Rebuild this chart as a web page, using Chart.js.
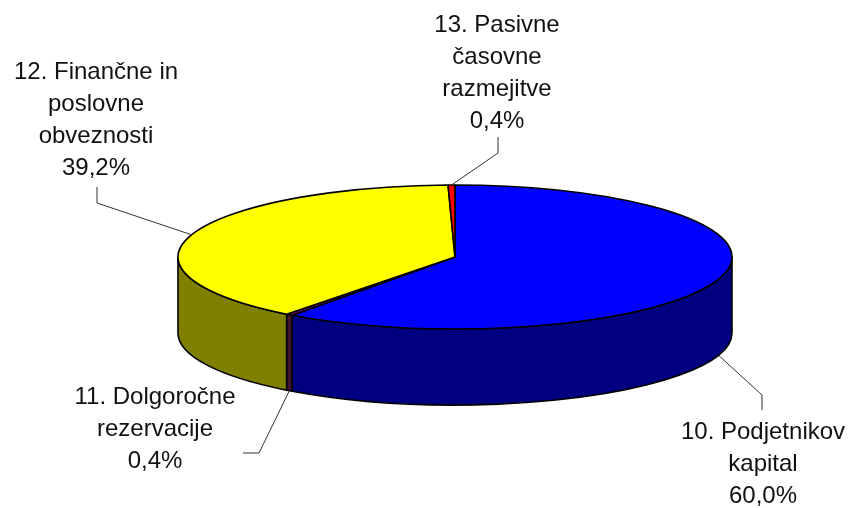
<!DOCTYPE html>
<html>
<head>
<meta charset="utf-8">
<script src="https://cdn.jsdelivr.net/npm/chart.js@4/dist/chart.umd.min.js"></script>
<style>
  html, body { margin: 0; padding: 0; background: #fff; }
  #wrap { width: 854px; height: 508px; }
</style>
</head>
<body>
<div id="wrap"><canvas id="pie3d" width="854" height="508"></canvas></div>
<script>
// data
const categories = ['10. Podjetnikov kapital', '11. Dolgoročne rezervacije', '12. Finančne in poslovne obveznosti', '13. Pasivne časovne razmejitve'];
const labelLines = [['10. Podjetnikov', 'kapital'], ['11. Dolgoročne', 'rezervacije'], ['12. Finančne in', 'poslovne', 'obveznosti'], ['13. Pasivne', 'časovne', 'razmejitve']];
const shares = [60.0, 0.4, 39.2, 0.4];

// looks
const topColors = ['#0000FF', '#800080', '#FFFF00', '#FF0000'];
const sideColors = ['#000080', '#401530', '#808000', '#800000'];
const TILT = 72 / 277;   // ry / rx
const DEPTH = 76;
// text centre (x, first line y) and leader elbow per slice
const labelPos = [
  { x: 763, y: 432, elbow: [762, 395], end: [762, 410] },
  { x: 155, y: 397, elbow: [259, 453], end: [243, 453] },
  { x: 96, y: 72, elbow: [97, 203], end: [97, 187] },
  { x: 497, y: 25, elbow: [498, 153], end: [498, 137] }
];
const fmtPct = v => v.toFixed(1).replace('.', ',') + '%';

const pie3dPlugin = {
  id: 'pie3d',
  beforeDatasetsDraw(chart) {
    const ctx = chart.ctx;
    const arcs = chart.getDatasetMeta(0).data;
    if (!arcs.length) return false;
    const cx = arcs[0].x, cy = arcs[0].y;
    const rx = arcs[0].outerRadius, ry = rx * TILT;
    ctx.save();
    ctx.lineWidth = 1.6;
    ctx.strokeStyle = '#000';
    ctx.lineJoin = 'round';
    // outer walls, front half only (canvas angles 0..PI)
    arcs.forEach((arc, i) => {
      const a = Math.max(arc.startAngle, 0);
      const b = Math.min(arc.endAngle, Math.PI);
      if (b <= a) return;
      ctx.beginPath();
      ctx.ellipse(cx, cy, rx, ry, 0, a, b, false);
      ctx.lineTo(cx + rx * Math.cos(b), cy + DEPTH + ry * Math.sin(b));
      ctx.ellipse(cx, cy + DEPTH, rx, ry, 0, b, a, true);
      ctx.closePath();
      ctx.fillStyle = sideColors[i];
      ctx.fill();
      ctx.stroke();
    });
    // top faces
    arcs.forEach((arc, i) => {
      ctx.beginPath();
      ctx.moveTo(cx, cy);
      ctx.ellipse(cx, cy, rx, ry, 0, arc.startAngle, arc.endAngle, false);
      ctx.closePath();
      ctx.fillStyle = topColors[i];
      ctx.fill();
      ctx.stroke();
    });
    ctx.restore();
    return false;
  },
  afterDraw(chart) {
    const ctx = chart.ctx;
    const arcs = chart.getDatasetMeta(0).data;
    const cx = arcs[0].x, cy = arcs[0].y;
    const rx = arcs[0].outerRadius, ry = rx * TILT;
    ctx.save();
    arcs.forEach((arc, i) => {
      const mid = (arc.startAngle + arc.endAngle) / 2;
      const s = Math.sin(mid);
      const ax = cx + rx * Math.cos(mid);
      const ay = cy + ry * s + (s > 0 ? DEPTH : 0);
      const p = labelPos[i];
      ctx.beginPath();
      ctx.moveTo(ax, ay);
      ctx.lineTo(p.elbow[0], p.elbow[1]);
      ctx.lineTo(p.end[0], p.end[1]);
      ctx.strokeStyle = '#333';
      ctx.lineWidth = 1;
      ctx.stroke();

      const lines = labelLines[i].concat([fmtPct(shares[i])]);
      ctx.fillStyle = '#111';
      ctx.font = '24px "Liberation Sans", Arial, sans-serif';
      ctx.textAlign = 'center';
      ctx.textBaseline = 'middle';
      lines.forEach((t, k) => ctx.fillText(t, p.x, p.y + k * 32));
    });
    ctx.restore();
  }
};

new Chart(document.getElementById('pie3d'), {
  type: 'pie',
  data: {
    labels: categories,
    datasets: [{ data: shares, backgroundColor: topColors, borderWidth: 0 }]
  },
  options: {
    responsive: false,
    animation: false,
    radius: 277,
    layout: { padding: { left: 56, top: 6 } },
    plugins: { legend: { display: false }, tooltip: { enabled: false } }
  },
  plugins: [pie3dPlugin]
});
</script>
</body>
</html>
